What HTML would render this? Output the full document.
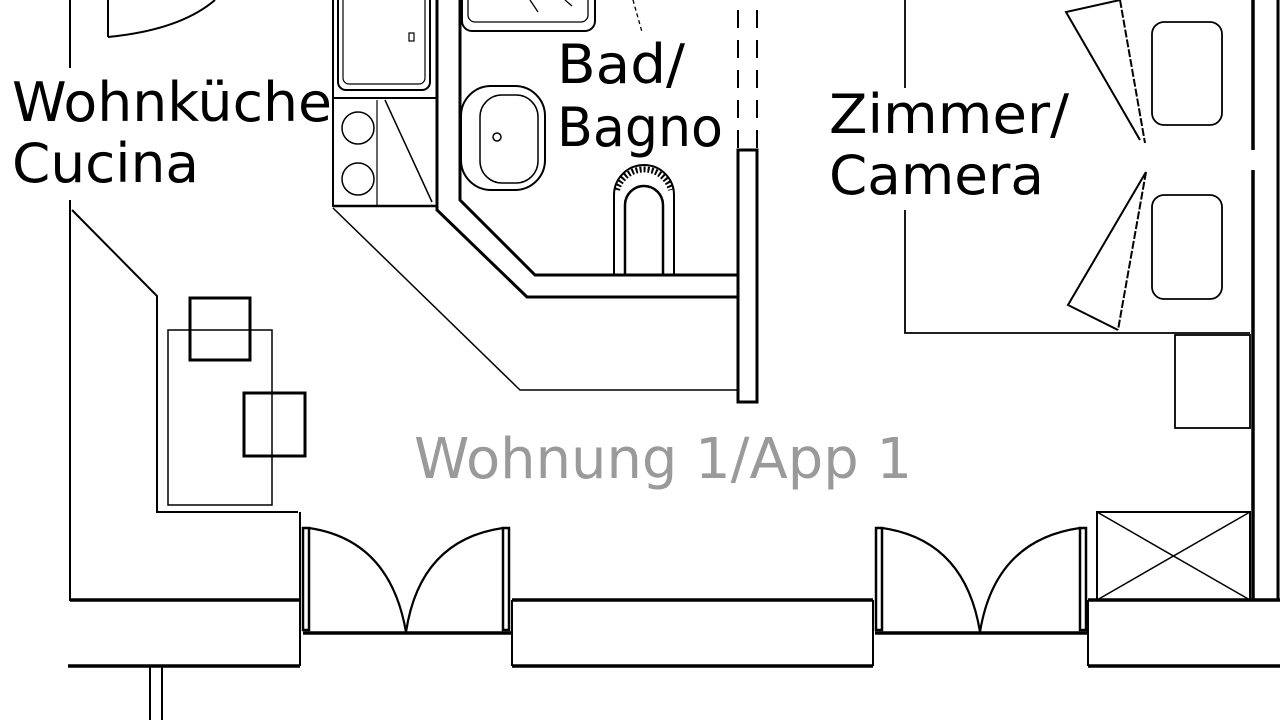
<!DOCTYPE html>
<html><head><meta charset="utf-8"><style>
html,body{margin:0;padding:0;background:#fff;width:1280px;height:720px;overflow:hidden}
svg{display:block}
text{font-family:"DejaVu Sans","Liberation Sans",sans-serif}
</style></head><body>
<svg width="1280" height="720" viewBox="0 0 1280 720" xmlns="http://www.w3.org/2000/svg">
<g fill="none" stroke="#000" stroke-width="2">
<line x1="70" y1="0" x2="70" y2="68"/>
<line x1="70" y1="200" x2="70" y2="601"/>
<path d="M108 0 V37"/>
<path d="M108 37 Q180 30 215 0"/>
<g stroke-width="3.5">
<line x1="70" y1="600" x2="300" y2="600"/>
<line x1="512" y1="600" x2="873" y2="600"/>
<line x1="1088" y1="600" x2="1280" y2="600"/>
<line x1="68" y1="666" x2="300" y2="666"/>
<line x1="512" y1="666" x2="873" y2="666"/>
<line x1="1088" y1="666" x2="1280" y2="666"/>
<line x1="303" y1="633" x2="512" y2="633"/>
<line x1="875" y1="633" x2="1088" y2="633"/>
</g>
<line x1="300" y1="512" x2="300" y2="666"/>
<line x1="512" y1="600" x2="512" y2="666"/>
<line x1="873" y1="600" x2="873" y2="666"/>
<line x1="1088" y1="600" x2="1088" y2="666"/>
<rect x="303" y="528" width="6" height="102" stroke-width="2.5"/>
<rect x="503" y="528" width="6" height="102" stroke-width="2.5"/>
<path d="M309 528 Q390 540 406 632" stroke-width="2.2"/>
<path d="M503 528 Q420 540 406 632" stroke-width="2.2"/>
<rect x="876" y="528" width="6" height="102" stroke-width="2.5"/>
<rect x="1080" y="528" width="6" height="102" stroke-width="2.5"/>
<path d="M882 528 Q965 540 980 632" stroke-width="2.2"/>
<path d="M1080 528 Q995 540 980 632" stroke-width="2.2"/>
<line x1="150" y1="666" x2="150" y2="720"/>
<line x1="162" y1="666" x2="162" y2="720"/>
<path d="M72 210 L157 296 V512 H298" stroke-width="2"/>
<rect x="168" y="330" width="104" height="175" stroke-width="1.5"/>
<rect x="190" y="298" width="60" height="62" stroke-width="3"/>
<rect x="244" y="393" width="61" height="63" stroke-width="3"/>
<line x1="333" y1="0" x2="333" y2="207"/>
<rect x="338" y="-10" width="92" height="100" rx="8"/>
<rect x="343" y="-10" width="82" height="94" rx="6" stroke-width="1.2"/>
<rect x="409" y="33" width="5" height="8" stroke-width="1.2"/>
<line x1="333" y1="98" x2="437" y2="98"/>
<circle cx="358" cy="128" r="16" stroke-width="1.5"/>
<circle cx="358" cy="179" r="16" stroke-width="1.5"/>
<line x1="385" y1="100" x2="432" y2="202" stroke-width="1.5"/>
<line x1="377" y1="100" x2="377" y2="205" stroke-width="1.2"/>
<line x1="333" y1="206" x2="437" y2="206" stroke-width="2.5"/>
<path d="M333 208 L520 390 H738" stroke-width="1.5"/>
<path d="M437 0 V210 L527 297 H738" stroke-width="3"/>
<path d="M460 0 V200 L535 275 H738" stroke-width="3"/>
<rect x="738" y="150" width="19" height="252" stroke-width="3"/>
<g stroke-dasharray="18 12"><line x1="738" y1="10" x2="738" y2="150"/><line x1="757" y1="10" x2="757" y2="150"/></g>
<rect x="462" y="-20" width="133" height="51" rx="10" stroke-width="2"/>
<rect x="468" y="-20" width="120" height="42" rx="7" stroke-width="1.3"/>
<line x1="530" y1="0" x2="538" y2="12" stroke-width="1.3"/>
<line x1="565" y1="0" x2="572" y2="6" stroke-width="1.3"/>
<line x1="633" y1="0" x2="642" y2="32" stroke-width="1.3" stroke-dasharray="4 3"/>
<rect x="461" y="86" width="84" height="104" rx="30" stroke-width="2"/>
<rect x="480" y="95" width="58" height="88" rx="22" stroke-width="1.5"/>
<circle cx="497" cy="137" r="4" stroke-width="1.5"/>
<path d="M614 275 V195 A30 30 0 0 1 674 195 V275" stroke-width="2"/>
<path d="M625 275 V205 A19 19 0 0 1 663 205 V275" stroke-width="2.5"/>
<path d="M617 190 A28 28 0 0 1 671 190" stroke-width="6" stroke-dasharray="2 2"/>
<line x1="905" y1="0" x2="905" y2="88" stroke-width="1.8"/>
<path d="M905 210 V333 H1250" stroke-width="1.8"/>
<rect x="1175" y="335" width="75" height="93" stroke-width="1.8"/>
<line x1="1253" y1="0" x2="1253" y2="150" stroke-width="3.5"/>
<line x1="1253" y1="170" x2="1253" y2="600" stroke-width="3.5"/>
<line x1="1278" y1="0" x2="1278" y2="600" stroke-width="3"/>
<rect x="1152" y="22" width="70" height="103" rx="12" stroke-width="1.8"/>
<rect x="1152" y="195" width="70" height="104" rx="12" stroke-width="1.8"/>
<path d="M1120 0 L1066 12 L1140 140" stroke-width="2"/>
<path d="M1120 0 L1145 143" stroke-width="2" stroke-dasharray="8 2"/>
<path d="M1146 172 L1068 305 L1118 330" stroke-width="2"/>
<path d="M1146 172 L1118 330" stroke-width="2" stroke-dasharray="8 2"/>
<rect x="1097" y="512" width="153" height="88" stroke-width="2"/>
<line x1="1097" y1="512" x2="1250" y2="600" stroke-width="1.5"/>
<line x1="1250" y1="512" x2="1097" y2="600" stroke-width="1.5"/>
</g>
<g fill="#000" font-size="54">
<text x="12" y="121" textLength="320" lengthAdjust="spacingAndGlyphs">Wohnküche</text>
<text x="12" y="182" textLength="187" lengthAdjust="spacingAndGlyphs">Cucina</text>
<text x="557" y="83" textLength="128" lengthAdjust="spacingAndGlyphs">Bad/</text>
<text x="557" y="146" textLength="166" lengthAdjust="spacingAndGlyphs">Bagno</text>
<text x="829" y="133" textLength="240" lengthAdjust="spacingAndGlyphs">Zimmer/</text>
<text x="829" y="194" textLength="215" lengthAdjust="spacingAndGlyphs">Camera</text>
</g>
<text x="414" y="478" font-size="56" fill="#9a9a9a" textLength="498" lengthAdjust="spacingAndGlyphs">Wohnung 1/App 1</text>
</svg>
</body></html>
